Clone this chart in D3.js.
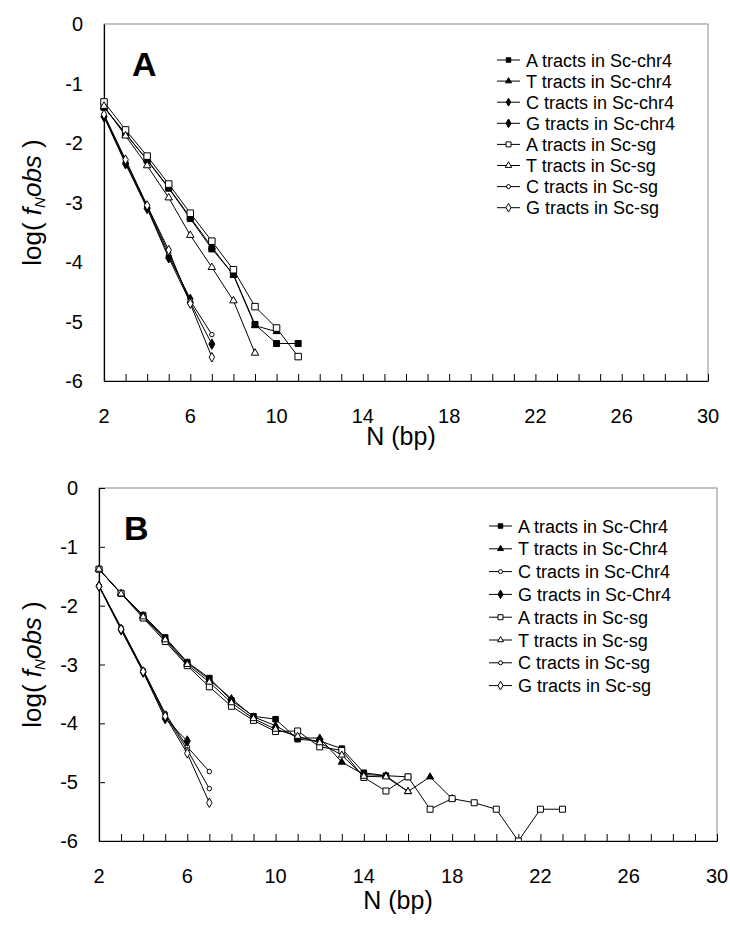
<!DOCTYPE html>
<html>
<head>
<meta charset="utf-8">
<script src="https://cdn.jsdelivr.net/npm/d3@7"></script>
<style>
  html, body { margin: 0; padding: 0; background: #fff; }
  svg { display: block; font-family: "Liberation Sans", Arial, sans-serif; }
</style>
</head>
<body>
<svg id="chart" width="730" height="950"></svg>
<script>
// ---------- data (values start at N = 2) ----------
const xTickLabels = [2, 6, 10, 14, 18, 22, 26, 30];
const yTickLabels = [0, -1, -2, -3, -4, -5, -6];
const startN = 2;

// Panel A
const namesA = ["A tracts in Sc-chr4", "T tracts in Sc-chr4", "C tracts in Sc-chr4", "G tracts in Sc-chr4",
                "A tracts in Sc-sg", "T tracts in Sc-sg", "C tracts in Sc-sg", "G tracts in Sc-sg"];
const aA_chr4 = [-1.40, -1.84, -2.29, -2.76, -3.27, -3.78, -4.21, -5.05, -5.37, -5.37];
const aT_chr4 = [-1.40, -1.85, -2.28, -2.75, -3.25, -3.75, -4.22, -5.07, -5.17];
const aC_chr4 = [-1.55, -2.33, -3.08, -3.90, -4.62];
const aG_chr4 = [-1.56, -2.35, -3.10, -3.93, -4.68, -5.38];
const aA_sg   = [-1.31, -1.78, -2.22, -2.69, -3.18, -3.65, -4.13, -4.75, -5.11, -5.59];
const aT_sg   = [-1.38, -1.88, -2.38, -2.92, -3.55, -4.09, -4.65, -5.53];
const aC_sg   = [-1.53, -2.30, -3.06, -3.85, -4.65, -5.22];
const aG_sg   = [-1.52, -2.28, -3.05, -3.80, -4.70, -5.60];

// Panel B
const namesB = ["A tracts in Sc-Chr4", "T tracts in Sc-Chr4", "C tracts in Sc-Chr4", "G tracts in Sc-Chr4",
                "A tracts in Sc-sg", "T tracts in Sc-sg", "C tracts in Sc-sg", "G tracts in Sc-sg"];
const bA_chr4 = [-1.38, -1.79, -2.16, -2.54, -2.96, -3.23, -3.61, -3.88, -3.93, -4.27, -4.30, -4.43, -4.84, -4.89, -4.91];
const bT_chr4 = [-1.38, -1.79, -2.17, -2.56, -2.97, -3.26, -3.58, -3.89, -4.04, -4.25, -4.25, -4.66, -4.87, -4.89, -5.16, -4.91, -5.28];
const bC_chr4 = [-1.66, -2.38, -3.10, -3.83, -4.40, -4.82];
const bG_chr4 = [-1.67, -2.41, -3.13, -3.92, -4.30];
const bA_sg   = [-1.38, -1.79, -2.21, -2.61, -3.02, -3.38, -3.71, -3.95, -4.14, -4.13, -4.40, -4.46, -4.92, -5.15, -4.91, -5.46, -5.28, -5.35, -5.46, -6.00, -5.46, -5.46];
const bT_sg   = [-1.38, -1.80, -2.19, -2.58, -3.00, -3.30, -3.65, -3.92, -4.10, -4.22, -4.33, -4.54, -4.90, -4.91, -5.16];
const bC_sg   = [-1.66, -2.37, -3.09, -3.85, -4.45, -5.11];
const bG_sg   = [-1.67, -2.40, -3.12, -3.88, -4.51, -5.35];

// ---------- drawing ----------
const svg = d3.select("#chart");

// w = visible width of the marker in px
function markerPath(shape, w) {
  const spec = {
    square:   [d3.symbolSquare, w * w],
    triangle: [d3.symbolTriangle, Math.sqrt(3) / 4 * w * w],
    diamond:  [d3.symbolDiamond, 0.866 * w * w],
    circle:   [d3.symbolCircle, Math.PI / 4 * w * w]
  }[shape];
  return d3.symbol().type(spec[0]).size(spec[1])();
}

function drawPanel(cfg) {
  const g = svg.append("g");
  const x = d3.scaleLinear().domain([2, 30]).range([cfg.left, cfg.right]);
  const y = d3.scaleLinear().domain([0, -6]).range([cfg.top, cfg.bottom]);

  // frame (gray top/right)
  g.append("rect").attr("x", cfg.left).attr("y", cfg.top)
    .attr("width", cfg.right - cfg.left).attr("height", cfg.bottom - cfg.top)
    .attr("fill", "none").attr("stroke", "#8a8a8a").attr("stroke-width", 1);

  const clipId = "clip" + cfg.id;
  svg.append("defs").append("clipPath").attr("id", clipId)
    .append("rect").attr("x", cfg.left - 8).attr("y", cfg.top - 8)
    .attr("width", cfg.right - cfg.left + 16).attr("height", cfg.bottom - cfg.top + 8);

  // x axis with inward ticks at every integer
  const xAxis = d3.axisBottom(x).tickValues(d3.range(2, 31)).tickSizeInner(-7).tickSizeOuter(0).tickFormat("");
  const xg = g.append("g").attr("transform", `translate(0,${cfg.bottom})`).call(xAxis);
  xg.select(".domain").attr("stroke", "#000").attr("stroke-width", 1.2);
  xg.selectAll(".tick line").attr("stroke", "#000");
  g.selectAll(".xlab").data(xTickLabels).enter().append("text")
    .attr("x", d => x(d)).attr("y", cfg.bottom + 42)
    .attr("text-anchor", "middle").attr("font-size", 20).text(d => d);

  // y axis
  const yAxis = d3.axisLeft(y).tickValues(yTickLabels).tickSizeInner(cfg.yTicks ? -6 : 0).tickSizeOuter(0).tickFormat("");
  const yg = g.append("g").attr("transform", `translate(${cfg.left},0)`).call(yAxis);
  yg.select(".domain").attr("stroke", "#000").attr("stroke-width", 1.2);
  yg.selectAll(".tick line").attr("stroke", "#000");
  g.selectAll(".ylab").data(yTickLabels).enter().append("text")
    .attr("x", cfg.left - 21).attr("y", d => y(d) + 7)
    .attr("text-anchor", "end").attr("font-size", 20).text(d => d);

  // axis titles
  g.append("text").attr("x", cfg.xTitleX).attr("y", cfg.bottom + cfg.xTitleOff)
    .attr("text-anchor", "middle").attr("font-size", 25).text("N (bp)");
  const yc = (cfg.top + cfg.bottom) / 2;
  const yt = g.append("text").attr("transform", `translate(41,${yc}) rotate(-90)`)
    .attr("text-anchor", "middle").attr("font-size", 26);
  yt.append("tspan").text("log( ");
  yt.append("tspan").attr("font-style", "italic").text("f");
  yt.append("tspan").attr("font-style", "italic").attr("font-size", 15).attr("dy", 4).text("N");
  yt.append("tspan").attr("font-style", "italic").attr("dy", -4).text("obs");
  yt.append("tspan").text(" )");

  // panel letter
  g.append("text").attr("x", cfg.letterX).attr("y", cfg.letterY)
    .attr("font-size", 34).attr("font-weight", "bold").text(cfg.letter);

  // series
  const line = d3.line().x((d, i) => x(startN + i)).y(d => y(d));
  const plot = g.append("g").attr("clip-path", `url(#${clipId})`);
  cfg.series.forEach(s => {
    plot.append("path").datum(s.data).attr("d", line)
      .attr("fill", "none").attr("stroke", "#000").attr("stroke-width", 1);
  });
  cfg.series.forEach(s => {
    plot.selectAll(null).data(s.data).enter().append("path")
      .attr("transform", (d, i) => `translate(${x(startN + i)},${y(d)})`)
      .attr("d", markerPath(s.shape, s.size))
      .attr("fill", s.fill).attr("stroke", "#000").attr("stroke-width", 1);
  });

  // legend
  const lg = g.append("g");
  cfg.series.forEach((s, i) => {
    const ly = cfg.legY + i * cfg.legStep;
    lg.append("line").attr("x1", cfg.legX).attr("x2", cfg.legX + 23)
      .attr("y1", ly).attr("y2", ly).attr("stroke", "#000").attr("stroke-width", 1);
    lg.append("path").attr("transform", `translate(${cfg.legX + 11.5},${ly})`)
      .attr("d", markerPath(s.shape, s.legSize))
      .attr("fill", s.fill).attr("stroke", "#000").attr("stroke-width", 1);
    lg.append("text").attr("x", cfg.legX + 29).attr("y", ly + 6.5)
      .attr("font-size", 18).text(s.name);
  });
}

drawPanel({
  id: "A", letter: "A", letterX: 132, letterY: 76,
  left: 104, right: 708, top: 24, bottom: 381, yTicks: false, xTitleX: 401, xTitleOff: 64,
  legX: 497, legY: 60, legStep: 21.1,
  series: [
    { name: namesA[0], data: aA_chr4, shape: "square",   fill: "#000", size: 6,   legSize: 4.5 },
    { name: namesA[1], data: aT_chr4, shape: "triangle", fill: "#000", size: 7,   legSize: 6 },
    { name: namesA[2], data: aC_chr4, shape: "diamond",  fill: "#000", size: 5.5, legSize: 4.5 },
    { name: namesA[3], data: aG_chr4, shape: "diamond",  fill: "#000", size: 6,   legSize: 5 },
    { name: namesA[4], data: aA_sg,   shape: "square",   fill: "#fff", size: 6.5, legSize: 5 },
    { name: namesA[5], data: aT_sg,   shape: "triangle", fill: "#fff", size: 7.5, legSize: 6.5 },
    { name: namesA[6], data: aC_sg,   shape: "circle",   fill: "#fff", size: 4.5, legSize: 4 },
    { name: namesA[7], data: aG_sg,   shape: "diamond",  fill: "#fff", size: 5.5, legSize: 5 }
  ]
});

drawPanel({
  id: "B", letter: "B", letterX: 124, letterY: 540,
  left: 99, right: 717, top: 488, bottom: 841, yTicks: true, xTitleX: 398, xTitleOff: 68,
  legX: 489, legY: 526, legStep: 22.8,
  series: [
    { name: namesB[0], data: bA_chr4, shape: "square",   fill: "#000", size: 5.5, legSize: 4.5 },
    { name: namesB[1], data: bT_chr4, shape: "triangle", fill: "#000", size: 7,   legSize: 6 },
    { name: namesB[2], data: bC_chr4, shape: "circle",   fill: "#fff", size: 4.5, legSize: 4 },
    { name: namesB[3], data: bG_chr4, shape: "diamond",  fill: "#000", size: 6,   legSize: 5 },
    { name: namesB[4], data: bA_sg,   shape: "square",   fill: "#fff", size: 6,   legSize: 5 },
    { name: namesB[5], data: bT_sg,   shape: "triangle", fill: "#fff", size: 7,   legSize: 6 },
    { name: namesB[6], data: bC_sg,   shape: "circle",   fill: "#fff", size: 4.5, legSize: 4 },
    { name: namesB[7], data: bG_sg,   shape: "diamond",  fill: "#fff", size: 5.5, legSize: 5 }
  ]
});
</script>
</body>
</html>
